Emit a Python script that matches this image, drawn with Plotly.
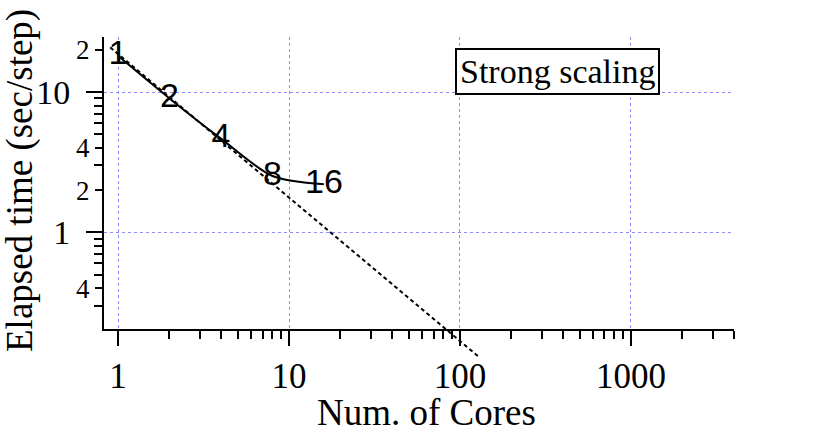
import plotly.graph_objects as go

# ---- data ----
cores = [1, 2, 4, 8, 16]
elapsed = [18.1, 9.0, 4.65, 2.52, 2.2]
point_labels = ["1", "2", "4", "8", "16"]

ideal_cores = [0.9, 130]
ideal_time = [20.8, 0.1285]

x_major = [1, 10, 100, 1000]
x_major_text = ["1", "10", "100", "1000"]
y_major = [1, 10]
y_major_text = ["1", "10"]
y_mid = [0.4, 2, 4, 20]
y_mid_text = ["4", "2", "4", "2"]
y_minor = [0.3, 0.5, 0.6, 0.7, 0.8, 0.9, 3, 5, 6, 7, 8, 9]
x_minor = [m * d for d in (1, 10, 100) for m in range(2, 10)] + [2000, 3000, 4000]

# ---- geometry (body margin removed via post_script) ----
W, H = 822, 433
plot_left, plot_right, plot_top = 104, 734, 37
ext_bottom = 365                                     # bottom of extended area
axis_bottom_px = 329.3
ML = plot_left
MT = plot_top
MR = W - plot_right
MB = H - ext_bottom
plot_w = W - ML - MR
plot_h = H - MT - MB
y_dom0 = (ext_bottom - axis_bottom_px) / plot_h
x_range = [-0.082, 3.6025]
y_range = [-0.691, 1.392]
span = (y_range[1] - y_range[0]) / (1 - y_dom0)
y3_range = [y_range[1] - span, y_range[1]]

serif = "Liberation Serif, Times New Roman, serif"
sans = "Liberation Sans, Arial, sans-serif"
grid_col = "rgb(140,140,255)"

fig = go.Figure()

fig.add_trace(go.Scatter(
    x=cores, y=elapsed, mode="lines+text", text=point_labels,
    textposition="middle center",
    textfont=dict(family=sans, size=34, color="black"),
    line=dict(color="black", width=2, shape="spline", smoothing=0.8),
    cliponaxis=False, showlegend=False, hoverinfo="skip",
    xaxis="x", yaxis="y",
))

# invisible helper so the label axis y2 is drawn
fig.add_trace(go.Scatter(
    x=[1], y=[1], mode="markers", marker=dict(opacity=0),
    showlegend=False, hoverinfo="skip", xaxis="x", yaxis="y2",
))

fig.add_trace(go.Scatter(
    x=ideal_cores, y=ideal_time, mode="lines",
    line=dict(color="black", width=2, dash="4px,3px"),
    showlegend=False, hoverinfo="skip", xaxis="x3", yaxis="y3",
))

tick_common = dict(ticks="outside", tickwidth=2, tickcolor="black")

fig.update_layout(
    width=W, height=H,
    margin=dict(l=ML, r=MR, t=MT, b=MB, pad=0),
    paper_bgcolor="white", plot_bgcolor="rgba(0,0,0,0)",
    showlegend=False,
    xaxis=dict(
        type="log", range=x_range, domain=[0, 1], anchor="y",
        showline=True, linecolor="black", linewidth=2,
        tickvals=x_major, ticktext=x_major_text, ticklen=15,
        tickfont=dict(family=serif, size=35, color="black"),
        showgrid=True, gridcolor=grid_col, griddash="dot", gridwidth=1,
        zeroline=False,
        minor=dict(tickvals=x_minor, ticklen=8, showgrid=False, **tick_common),
        **tick_common,
    ),
    yaxis=dict(
        type="log", range=y_range, domain=[y_dom0, 1], anchor="x",
        showline=True, linecolor="black", linewidth=2,
        tickvals=y_major, ticktext=y_major_text, ticklen=16,
        ticklabelstandoff=9,
        tickfont=dict(family=serif, size=34, color="black"),
        showgrid=True, gridcolor=grid_col, griddash="dot", gridwidth=1,
        zeroline=False,
        minor=dict(tickvals=y_minor, ticklen=8, showgrid=False, **tick_common),
        **tick_common,
    ),
    yaxis2=dict(
        type="log", range=y_range, overlaying="y", side="left", anchor="x",
        showline=False, showgrid=False, zeroline=False,
        tickvals=y_mid, ticktext=y_mid_text, ticklen=8,
        tickfont=dict(family=serif, size=27, color="black"),
        **tick_common,
    ),
    xaxis3=dict(type="log", range=x_range, domain=[0, 1], anchor="y3",
                visible=False, showgrid=False),
    yaxis3=dict(type="log", range=y3_range, domain=[0, 1], anchor="x3",
                visible=False, showgrid=False),
)

def px_to_paper_x(px):
    return (px - plot_left) / plot_w

def px_to_paper_y(py):
    return (ext_bottom - py) / plot_h

fig.add_annotation(
    text="Elapsed time (sec/step)", textangle=-90, showarrow=False,
    xref="paper", yref="paper", x=px_to_paper_x(20), y=px_to_paper_y(181),
    xanchor="center", yanchor="middle",
    font=dict(family=serif, size=37, color="black"),
)
fig.add_annotation(
    text="Num. of Cores", showarrow=False,
    xref="paper", yref="paper", x=px_to_paper_x(426), y=px_to_paper_y(412),
    xanchor="center", yanchor="middle",
    font=dict(family=serif, size=37, color="black"),
)
fig.add_annotation(
    text="Strong scaling", showarrow=False,
    xref="paper", yref="paper", x=px_to_paper_x(557), y=px_to_paper_y(71.5),
    xanchor="center", yanchor="middle",
    font=dict(family=serif, size=34, color="black"),
    bgcolor="white", bordercolor="black", borderwidth=2, borderpad=3,
)

fig.write_html(
    "out.html",
    config={"displayModeBar": False},
    post_script="document.body.style.margin='0';document.body.style.overflow='hidden';",
)
